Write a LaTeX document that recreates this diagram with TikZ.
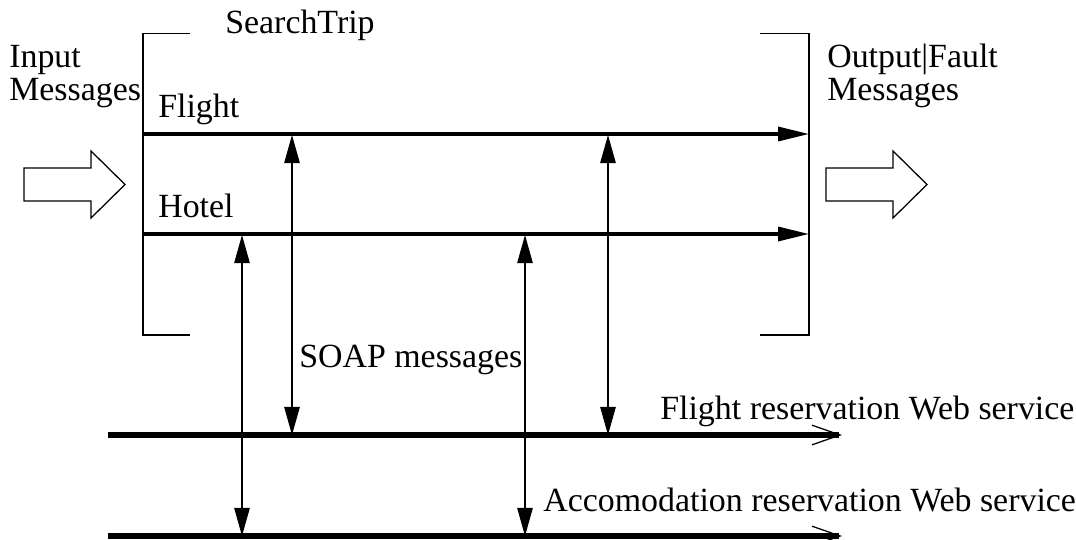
\documentclass[tikz,border=0pt]{standalone}
\usepackage{fontspec}
\setmainfont{Liberation Serif}
\usetikzlibrary{arrows.meta}

\begin{document}
\begin{tikzpicture}[x=0.025cm,y=-0.025cm,
	lbl/.style={anchor=base west,inner sep=0pt,align=left,font=\fontsize{24.1}{23}\selectfont},
	frame/.style={line width=0.9pt},
	msg/.style={line width=0.9pt,{Triangle[length=20pt,width=11pt]}-{Triangle[length=20pt,width=11pt]}},
	flow/.style={line width=2.2pt,-{Triangle[length=22pt,width=10pt]}},
	service/.style={line width=4.3pt,-{Straight Barb[length=20pt,width=14pt,line width=0.9pt]}},
	bigarrow/.style={draw,line width=0.9pt}]
	\useasboundingbox (0,0) rectangle (1076,539);
	% labels
	\node[lbl] (input) at (9,100) {Input\\Messages};
	\node[lbl] (output) at (827,100) {Output|Fault\\Messages};
	\node[lbl] (trip) at (225,33) {SearchTrip};
	\node[lbl] (flight) at (158,117) {Flight};
	\node[lbl] (hotel) at (158,217) {Hotel};
	\node[lbl] (soap) at (299,367) {SOAP messages};
	\node[lbl] (fws) at (660,419) {Flight reservation Web service};
	\node[lbl] (aws) at (543,511) {Accomodation reservation Web service};
	% end points of the lines
	\coordinate (f1) at (143,134);
	\coordinate (f2) at (809,134);
	\coordinate (h1) at (143,234);
	\coordinate (h2) at (809,234);
	\coordinate (w1) at (108,435);
	\coordinate (w2) at (842,435);
	\coordinate (a1) at (108,536);
	\coordinate (a2) at (842,536);
	% brackets of the process
	\draw[frame] (190,33.5) -- (143,33.5) -- (143,335) -- (190,335);
	\draw[frame] (760,33.5) -- (809,33.5) -- (809,335) -- (760,335);
	\draw[flow] (f1) -- (f2);
	\draw[flow] (h1) -- (h2);
	\draw[service] (w1) -- (w2);
	\draw[service] (a1) -- (a2);
	% SOAP exchanges
	\foreach \n/\x/\ya/\yb in {p/292/135/435, q/608/135/435, r/242/235/536, s/525/235/536}
	{
		\coordinate (\n t) at (\x,\ya);
		\coordinate (\n b) at (\x,\yb);
		\draw[msg] (\n t) -- (\n b);
	}
	% in and out arrows
	\foreach \x in {24,826}
		\draw[bigarrow] (\x,168) -- ++(67,0) -- ++(0,-17) -- ++(34,33.5) -- ++(-34,33.5) -- ++(0,-17) -- ++(-67,0) -- cycle;
\end{tikzpicture}
\end{document}
